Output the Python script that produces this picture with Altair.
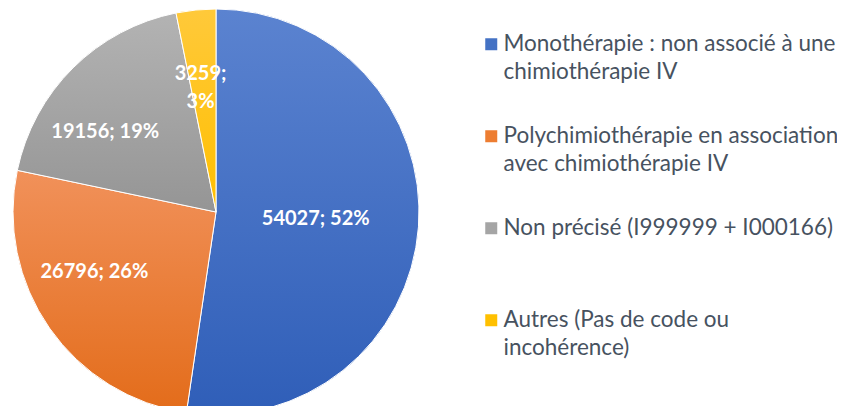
import altair as alt
import pandas as pd

categories = [
    "Monothérapie : non associé à une\nchimiothérapie IV",
    "Polychimiothérapie en association\navec chimiothérapie IV",
    "Non précisé (I999999 + I000166)",
    "Autres (Pas de code ou\nincohérence)",
]
values = [54027, 26796, 19156, 3259]
order = [1, 2, 3, 4]
legend_colors = ["#4472C4", "#ED7D31", "#A5A5A5", "#FFC000"]
grad_top = ["#5B83D0", "#F1915A", "#B3B3B3", "#FFC93A"]
grad_bottom = ["#2F5EB8", "#E36C1A", "#959595", "#FFBF00"]
# label placement (radius and nudge) for each slice, like Excel "best fit"
label_radius = [100, 136, 136, 136]
label_nudge = [(0, 0), (-10, -18), (-15, 17), (-2, -3)]

df = pd.DataFrame({"categorie": categories, "valeur": values, "ordre": order})


def gradient(top, bottom):
    return {"gradient": "linear", "x1": 0, "y1": 0, "x2": 0, "y2": 1,
            "stops": [{"offset": 0, "color": top}, {"offset": 1, "color": bottom}]}


CX, CY, R = 208, 204, 203

base = alt.Chart(df).transform_joinaggregate(total="sum(valeur)").transform_calculate(
    pct="round(100 * datum.valeur / datum.total)"
)

theta = alt.Theta("valeur:Q", stack=True)
order_enc = alt.Order("ordre:Q", sort="ascending")

arcs = base.mark_arc(outerRadius=R, stroke="white", strokeWidth=1).encode(
    theta=theta,
    order=order_enc,
    x=alt.value(CX),
    y=alt.value(CY),
    color=alt.Color(
        "categorie:N",
        scale=alt.Scale(domain=categories, range=legend_colors),
        legend=alt.Legend(
            title=None,
            orient="none",
            legendX=472,
            legendY=25,
            direction="vertical",
            symbolType="square",
            symbolSize=144,
            symbolStrokeWidth=0,
            symbolOpacity=1,
            labelFont="Lato",
            labelFontSize=22.5,
            labelColor="#47525F",
            labelLimit=500,
            labelOffset=1,
            labelExpr="split(datum.label + (indexof(datum.label, '\\n') < 0 ? '\\n ' : ''), '\\n')",
            rowPadding=41,
        ),
    ),
)

fill_enc = {
    "condition": [
        {"test": f"datum.ordre == {o}", "value": gradient(t, b)}
        for o, t, b in zip(order[:-1], grad_top[:-1], grad_bottom[:-1])
    ],
    "value": gradient(grad_top[-1], grad_bottom[-1]),
}

grad_arcs = base.mark_arc(outerRadius=R, stroke="white", strokeWidth=1).encode(
    theta=theta,
    order=order_enc,
    x=alt.value(CX),
    y=alt.value(CY),
    fill=fill_enc,
)

lab_base = base.transform_window(
    cum="sum(valeur)", sort=[alt.SortField("ordre")], frame=[None, 0]
).transform_calculate(
    mid="2 * PI * (datum.cum - datum.valeur / 2) / datum.total",
    label="datum.valeur + ';' + (datum.ordre == 4 ? '\\n' : ' ') + datum.pct + '%'",
)

label_layers = []
for o, r, (ddx, ddy) in zip(order, label_radius, label_nudge):
    label_layers.append(
        lab_base.transform_filter(f"datum.ordre == {o}").mark_text(
            font="Lato", fontSize=20, fontWeight="bold", color="white",
            lineBreak="\n", lineHeight=28, dx=ddx, dy=ddy,
        ).encode(
            theta=alt.Theta("mid:Q", scale=None),
            radius=alt.value(r),
            x=alt.value(CX),
            y=alt.value(CY),
            text="label:N",
        )
    )

chart = (
    alt.layer(arcs, grad_arcs, *label_layers)
    .properties(width=829, height=398, padding=0, autosize="none")
    .configure(style={"guide-label": {"lineHeight": 28}})
    .configure_view(stroke=None)
)

chart.save("out.html", embed_options={"renderer": "svg", "actions": False})
